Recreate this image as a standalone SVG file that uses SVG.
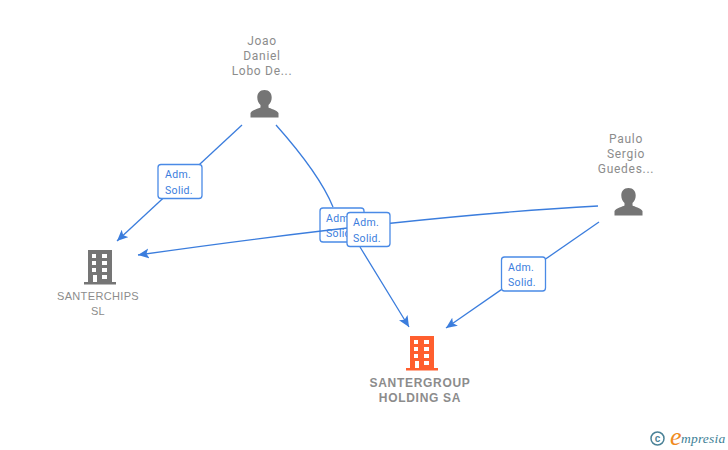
<svg xmlns="http://www.w3.org/2000/svg" width="728" height="450" viewBox="0 0 728 450">
<style>
.l{fill:none;stroke:#3b7ddd;stroke-width:1.3}
.t{font-family:"Roboto","Liberation Sans",sans-serif;font-size:12px;fill:#8c8c8c;text-anchor:middle;letter-spacing:.7px}
.c{font-family:"Liberation Sans",sans-serif;font-size:11px;fill:#8c8c8c;text-anchor:middle;letter-spacing:.35px}
.b{font-family:"Liberation Sans",sans-serif;font-size:12px;font-weight:bold;fill:#8c8c8c;text-anchor:middle;letter-spacing:.7px}
.lb rect{fill:#fff;stroke:#4a8ae6;stroke-width:1.3}
.lb text{font-family:"Roboto","Liberation Sans",sans-serif;font-size:10.5px;fill:#3b7ddd;text-anchor:middle;letter-spacing:.3px}
.p{fill:#757575}
</style>
<defs>
<marker id="a" markerUnits="userSpaceOnUse" markerWidth="12" markerHeight="12" refX="11" refY="5" orient="auto"><path d="M0 0L11 5L0 10L2.500 5Z" fill="#3b7ddd"/></marker>
<symbol id="person" viewBox="0 0 28 28" overflow="visible"><path d="M14 0c4.800 0 7.200 3.200 7.200 7.500 0 3-1.200 5.500-3.200 7.500v2.500c1.500 1 8.500 2.500 10 5.500v4.500H0V23c1.500-3 8.500-4.500 10-5.500V15c-2-2-3.200-4.500-3.200-7.500C6.800 3.200 9.200 0 14 0Z"/></symbol>
<symbol id="bld" viewBox="0 0 32 35" overflow="visible"><path fill-rule="evenodd" d="M4 0H28V32H32V34.500H0V32H4ZM8 4V8H12V4ZM18 4V8H23V4ZM8 11V15H12V11ZM18 11V15H23V11ZM8 18V22H12V18ZM18 18V22H23V18ZM9 25V32H13V25ZM18 25V29H23V25Z"/></symbol>
</defs>
<g id="label-2" class="lb"><rect x="320" y="208" width="44" height="34" rx="3"/><text x="339" y="222">Adm.</text><text x="340" y="237">Solid.</text></g>
<g id="connectors">
<path class="l" d="M242 125L117 241" marker-end="url(#a)"/>
<path class="l" d="M276 125C300 152 322 180 333 207M360 247L409 327" marker-end="url(#a)"/>
<path class="l" d="M598 206C470 213 300 232 138 255" marker-end="url(#a)"/>
<path class="l" d="M599 222L446 328" marker-end="url(#a)"/>
</g>
<g id="edge-labels" class="lb">
<g id="label-1"><rect x="158" y="164.500" width="44" height="34" rx="3"/><text x="178" y="178">Adm.</text><text x="179" y="194">Solid.</text></g>
<g id="label-3"><rect x="347" y="212.500" width="43" height="34" rx="3"/><text x="366" y="226">Adm.</text><text x="367" y="242">Solid.</text></g>
<g id="label-4"><rect x="501.500" y="257" width="44" height="34" rx="3"/><text x="521" y="271">Adm.</text><text x="522" y="286">Solid.</text></g>
</g>
<g id="node-joao"><text class="t" x="262" y="45">Joao</text><text class="t" x="262" y="60">Daniel</text><text class="t" x="262" y="75">Lobo De...</text><use href="#person" class="p" x="250.500" y="90" width="28" height="28"/></g>
<g id="node-paulo"><text class="t" x="626" y="143">Paulo</text><text class="t" x="626" y="158">Sergio</text><text class="t" x="626" y="173">Guedes...</text><use href="#person" class="p" x="614.500" y="188" width="28" height="28"/></g>
<g id="node-santerchips"><use href="#bld" fill="#757575" x="84" y="250" width="32" height="35"/><text class="c" x="98" y="300">SANTERCHIPS</text><text class="c" x="98" y="315">SL</text></g>
<g id="node-santergroup"><use href="#bld" fill="#ff5f2e" x="406" y="336" width="32" height="35"/><text class="b" x="420" y="387">SANTERGROUP</text><text class="b" x="420" y="402">HOLDING SA</text></g>
<g id="logo">
<circle cx="657.500" cy="438.500" r="6.500" fill="none" stroke="#4b8297" stroke-width="1.500"/>
<text x="657.500" y="442" font-family="Liberation Sans,sans-serif" font-size="10" font-weight="bold" fill="#4b8297" text-anchor="middle">c</text>
<text x="670" y="445" font-family="Liberation Serif,serif" font-size="26" font-style="italic" fill="#f08a1d">e</text>
<text x="681" y="443" font-family="Liberation Serif,serif" font-size="13.500" font-style="italic" fill="#3d7f96" letter-spacing=".2">mpresia</text>
</g>
</svg>
